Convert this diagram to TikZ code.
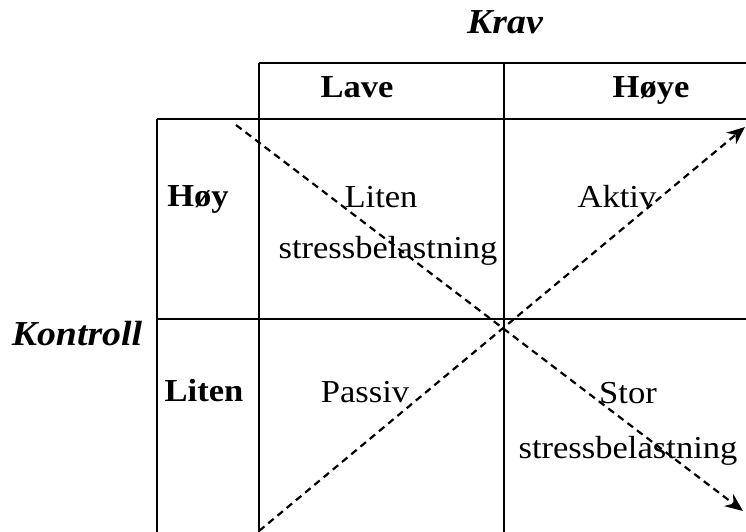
\documentclass[tikz,border=0pt]{standalone}
\usepackage{fontspec}
\setmainfont[FakeStretch=1.08]{Liberation Serif}
\usetikzlibrary{arrows.meta}
\begin{document}
\begin{tikzpicture}[x=1pt,y=-1pt,
  grid/.style={line width=2.3pt},
  txt/.style={inner sep=0pt, anchor=base, font=\fontsize{32}{36}\selectfont},
  head/.style={txt, font=\fontsize{32}{36}\selectfont\bfseries},
  axis/.style={inner sep=0pt, anchor=base, font=\fontsize{35}{38}\selectfont\bfseries\itshape},
  flow/.style={dash pattern=on 7pt off 5pt, line width=2.2pt, -{Stealth[length=18pt,width=15pt]}}]
  \useasboundingbox (0,0) rectangle (746,531);
  \clip (0,0) rectangle (746,531);

  % table grid
  \draw[grid] (259,63) -- (752,63);
  \draw[grid] (157,119) -- (752,119);
  \draw[grid] (157,319) -- (752,319);
  \draw[grid] (157,119) -- (157,540);
  \draw[grid] (259,63) -- (259,540);
  \draw[grid] (504,63) -- (504,540);

  % axis titles
  \node[axis] (krav) at (505,33) {Krav};
  \node[axis] (kontroll) at (77,345) {Kontroll};

  % column and row headings
  \node[head] (lave) at (357,97) {Lave};
  \node[head] (hoyec) at (651,97) {Høye};
  \node[head] (hoy) at (198,206) {Høy};
  \node[head] (litenr) at (204,401) {Liten};

  % cell texts
  \node[txt] (c11a) at (381,207) {Liten};
  \node[txt] (c11b) at (388,258) {stressbelastning};
  \node[txt] (c12) at (617,207) {Aktiv};
  \node[txt] (c21) at (365,402) {Passiv};
  \node[txt] (c22a) at (628,403) {Stor};
  \node[txt] (c22b) at (628,458) {stressbelastning};

  % diagonal arrows
  \coordinate (d1s) at (236,125);
  \coordinate (d1e) at (743,511);
  \coordinate (d2s) at (259,531);
  \coordinate (d2e) at (745,127);
  \draw[flow] (d1s) -- (d1e);
  \draw[flow] (d2s) -- (d2e);
\end{tikzpicture}
\end{document}
